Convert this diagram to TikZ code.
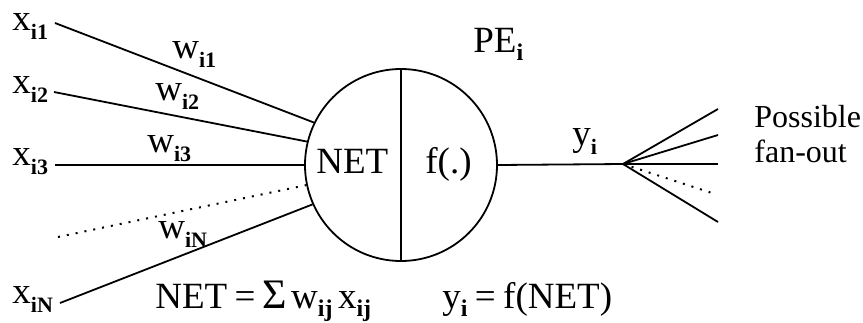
\documentclass[tikz,border=0pt]{standalone}
\usepackage{fontspec}
\setmainfont{Liberation Serif}
\newcommand{\mysub}[1]{\raisebox{-0.26em}{\fontsize{11}{11}\selectfont\bfseries #1}}
\newcommand{\mysubb}[1]{\raisebox{-0.24em}{\fontsize{12}{12}\selectfont\bfseries #1}}
\begin{document}
\begin{tikzpicture}[x=0.5pt,y=-0.5pt,
  wire/.style={line width=0.9pt},
  dotwire/.style={line width=1pt,dash pattern=on 1pt off 3.5pt},
  lbl/.style={anchor=base west,inner sep=0pt,font=\fontsize{18.5}{18.5}\selectfont},
  big/.style={anchor=base west,inner sep=0pt,font=\fontsize{18.5}{18.5}\selectfont},
  note/.style={anchor=base west,inner sep=0pt,font=\fontsize{16}{16}\selectfont}]
\useasboundingbox (0,0) rectangle (863,322);
% processing element
\node[draw,circle,line width=0.9pt,minimum size=96pt,inner sep=0pt] (pe) at (401,165) {};
\draw[wire] (pe.north) -- (pe.south);
\node[big] (net) at (316,173) {NET};
\node[big] (fdot) at (425,173) {f(.)};
\node[big] (pelbl) at (473,52) {PE\mysubb{i}};
% inputs
\node[lbl] (x1) at (12,30) {x\mysub{i1}};
\node[lbl] (x2) at (12,93) {x\mysub{i2}};
\node[lbl] (x3) at (12,165) {x\mysub{i3}};
\node[lbl] (xN) at (12,303) {x\mysub{iN}};
\coordinate (s1) at (55,23);
\coordinate (s2) at (54,92);
\coordinate (s3) at (55,165);
\coordinate (sd) at (58,237);
\coordinate (sN) at (60,303);
\draw[wire] (s1) -- (pe.154);
\draw[wire] (s2) -- (pe.166);
\draw[wire] (s3) -- (pe.180);
\draw[dotwire] (sd) -- (pe.192);
\draw[wire] (sN) -- (pe.204);
\node[lbl] (w1) at (172,58) {w\mysub{i1}};
\node[lbl] (w2) at (155,100) {w\mysub{i2}};
\node[lbl] (w3) at (147,152) {w\mysub{i3}};
\node[lbl] (wN) at (158,238) {w\mysub{iN}};
% output
\coordinate (fan) at (623,164);
\draw[wire] (pe.east) -- (fan);
\node[lbl] (ylbl) at (572,145) {y\mysub{i}};
\coordinate (o1) at (718,109);
\coordinate (o2) at (718,135);
\coordinate (o3) at (718,164);
\coordinate (o4) at (715,194);
\coordinate (o5) at (718,222);
\draw[wire] (fan) -- (o1);
\draw[wire] (fan) -- (o2);
\draw[wire] (fan) -- (o3);
\draw[dotwire] (fan) -- (o4);
\draw[wire] (fan) -- (o5);
\node[note] (fan1) at (754,127) {Possible};
\node[note] (fan2) at (754,162) {fan-out};
% equations
\node[big] (eq1) at (155,308) {NET\hspace{0.2em}=\hspace{0.2em}{\fontsize{21}{21}\selectfont Σ}\hspace{0.1em}w\mysubb{ij}\hspace{0.15em}x\mysubb{ij}};
\node[big] (eq2) at (442,308) {y\mysubb{i}\hspace{0.2em}=\hspace{0.2em}f(NET)};
\end{tikzpicture}
\end{document}
